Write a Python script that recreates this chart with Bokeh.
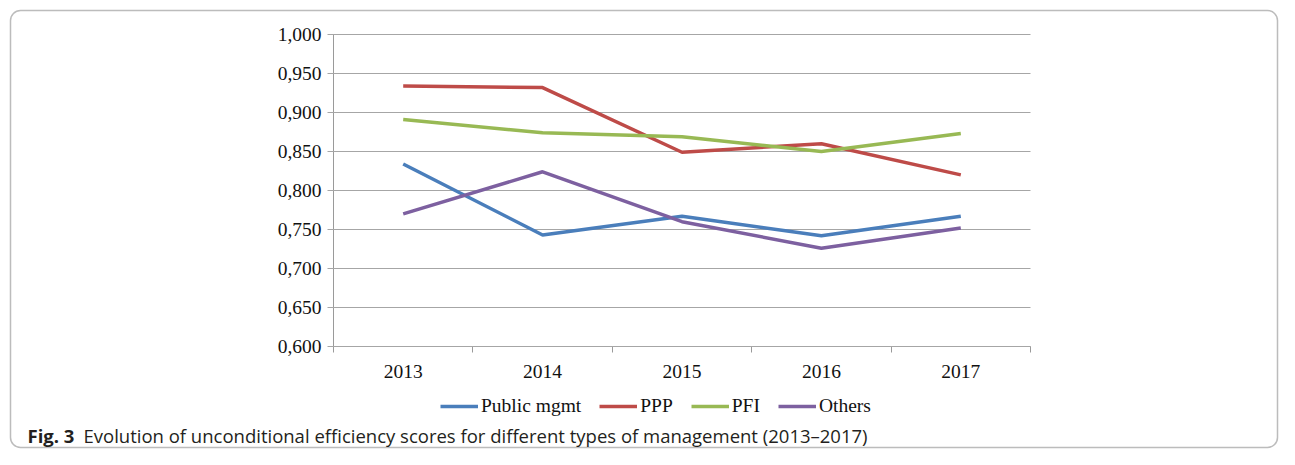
from bokeh.plotting import figure
from bokeh.models import (Range1d, FixedTicker, LinearAxis, CustomJSTickFormatter,
                          Legend, LegendItem, Label, BoxAnnotation)
from bokeh.embed import file_html
from bokeh.resources import INLINE

years = ["2013", "2014", "2015", "2016", "2017"]
public_mgmt = [0.834, 0.743, 0.767, 0.742, 0.767]
ppp = [0.934, 0.932, 0.849, 0.860, 0.820]
pfi = [0.891, 0.874, 0.869, 0.850, 0.873]
others = [0.770, 0.824, 0.760, 0.726, 0.752]
y_ticks = [0.60, 0.65, 0.70, 0.75, 0.80, 0.85, 0.90, 0.95, 1.00]

series_names = ["Public mgmt", "PPP", "PFI", "Others"]
series_values = [public_mgmt, ppp, pfi, others]
colors = ["#4A7EBB", "#BE4B48", "#98B954", "#7D60A0"]

caption_bold = "Fig. 3"
caption_text = "Evolution of unconditional efficiency scores for different types of management (2013\u20132017)"

# canvas and plot-area geometry (pixels)
W, H = 1279, 449
AX_L, AX_R, AX_T, AX_B = 333, 1030, 34, 346

ncat = len(years)
ymin, ymax = y_ticks[0], y_ticks[-1]
px_x = (AX_R - AX_L) / ncat
px_y = (AX_B - AX_T) / (ymax - ymin)
x_range = Range1d(-AX_L / px_x, (W - AX_L) / px_x)
y_range = Range1d(ymin - (H - AX_B) / px_y, ymax + AX_T / px_y)

p = figure(width=W, height=H, output_backend="svg", toolbar_location=None,
           x_range=x_range, y_range=y_range,
           x_axis_location=None, y_axis_location=None,
           min_border=0, min_border_left=0, min_border_right=0,
           min_border_top=0, min_border_bottom=0)
p.outline_line_color = None
p.background_fill_color = "white"
p.border_fill_color = "white"
p.xgrid.visible = False
p.ygrid.visible = False

grid_color = "#a6a6a6"
axis_color = "#9a9a9a"
serif = "Liberation Serif"

xs = [i + 0.5 for i in range(ncat)]

# Y axis: its inward ticks act as the horizontal gridlines
yaxis = LinearAxis(fixed_location=0, bounds=(ymin - 1e-9, ymax + 1e-9),
                   ticker=FixedTicker(ticks=y_ticks, minor_ticks=[]),
                   formatter=CustomJSTickFormatter(code="return tick.toFixed(3).replace('.', ',');"),
                   major_tick_out=6, major_tick_in=int(AX_R - AX_L),
                   major_tick_line_color=grid_color, axis_line_color=axis_color,
                   minor_tick_line_color=None, major_label_standoff=6,
                   major_label_text_font=serif, major_label_text_font_size="19.5px",
                   major_label_text_color="#111111", level="underlay")
p.add_layout(yaxis, "left")

# X axis: labels at category centres, ticks at boundaries
xaxis = LinearAxis(fixed_location=ymin, bounds=(0, ncat),
                   ticker=FixedTicker(ticks=xs, minor_ticks=list(range(ncat + 1))),
                   major_label_overrides={x: y for x, y in zip(xs, years)},
                   major_tick_out=0, major_tick_in=0,
                   minor_tick_out=6, minor_tick_in=0, minor_tick_line_color=axis_color,
                   axis_line_color=axis_color, major_label_standoff=12,
                   major_label_text_font=serif, major_label_text_font_size="19.5px",
                   major_label_text_color="#111111", level="underlay")
p.add_layout(xaxis, "below")

items = []
for name, vals, c in zip(series_names, series_values, colors):
    r = p.line(xs, vals, line_color=c, line_width=3.5)
    items.append(LegendItem(label=name, renderers=[r]))

legend = Legend(items=items, orientation="horizontal", location=(440, H - 417),
                glyph_width=38, glyph_height=20, label_standoff=3, spacing=18,
                padding=0, margin=0, border_line_color=None, background_fill_alpha=0,
                label_text_font=serif, label_text_font_size="19.5px",
                label_text_color="#111111")
p.add_layout(legend, "center")

# Caption
cap_mid = H - 435
p.add_layout(Label(x=27, y=cap_mid, x_units="screen", y_units="screen", text=caption_bold,
                   text_font="Open Sans", text_font_style="bold", text_font_size="18.5px",
                   text_color="#231f20", text_baseline="middle"))
p.add_layout(Label(x=83, y=cap_mid, x_units="screen", y_units="screen", text=caption_text,
                   text_font="Open Sans", text_font_size="18.5px",
                   text_color="#231f20", text_baseline="middle"))

# Rounded border around everything
p.add_layout(BoxAnnotation(left=10, right=W - 2, top=H - 10, bottom=2,
                           left_units="screen", right_units="screen",
                           top_units="screen", bottom_units="screen",
                           fill_alpha=0, line_color="#222222", line_width=1.5,
                           border_radius=10))

open("out.html", "w").write(file_html(p, INLINE))
